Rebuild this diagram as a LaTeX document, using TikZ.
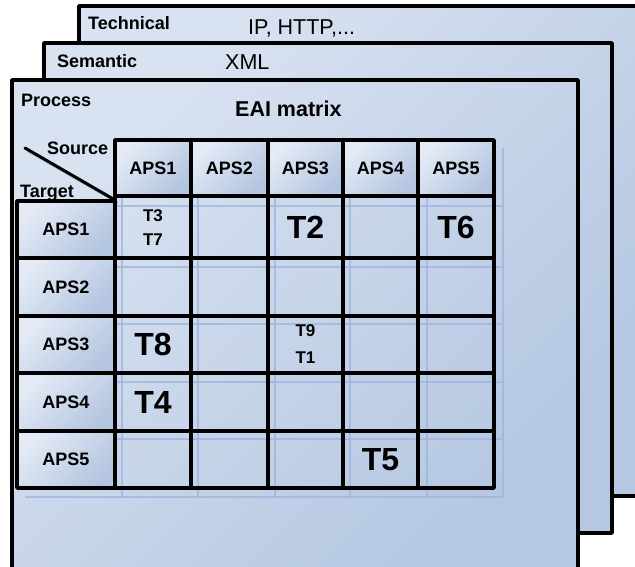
\documentclass[tikz,border=0pt]{standalone}
\usepackage{fontspec}
\setmainfont{Liberation Sans}
\definecolor{panellight}{HTML}{D9E2F1}
\definecolor{paneldark}{HTML}{B5C7E2}
\definecolor{headlight}{HTML}{E4EBF6}
\definecolor{headdark}{HTML}{B4C5E0}
\definecolor{faintblue}{HTML}{9FB6DC}
\tikzset{
	panel/.style={anchor=north west,inner sep=0pt,outer sep=0pt,top color=panellight,bottom color=paneldark,shading angle=45},
	frame/.style={line width=3.5pt,black},
	headcell/.style={anchor=north west,inner sep=0pt,outer sep=0pt,draw,line width=3.5pt,top color=headlight,bottom color=headdark,shading angle=45,font=\bfseries\fontsize{18}{20}\selectfont},
	bodycell/.style={anchor=north west,inner sep=0pt,outer sep=0pt,draw,line width=3.5pt},
	faint/.style={faintblue,line width=2pt,opacity=.8},
	lbl/.style={anchor=base west,inner sep=0pt,font=\bfseries\fontsize{18}{20}\selectfont},
	proto/.style={anchor=base west,inner sep=0pt,font=\fontsize{21.5}{24}\selectfont},
	bigtext/.style={font=\bfseries\fontsize{32}{36}\selectfont},
	smalltext/.style={font=\bfseries\fontsize{17}{24}\selectfont,align=center}
}
\begin{document}
\begin{tikzpicture}[x=1pt,y=-1pt,line join=round]
		\useasboundingbox (0,0) rectangle (635,567);
		%Ba lớp
		\node[panel,minimum width=562pt,minimum height=490pt] (tech) at (79,6) {};
		\draw[frame] (tech.south west) rectangle (tech.north east);
		\node[panel,minimum width=568pt,minimum height=490pt] (sem) at (44,43) {};
		\draw[frame] (sem.south west) rectangle (sem.north east);
		\node[panel,minimum width=566pt,minimum height=487pt] (proc) at (12,80) {};
		\draw[frame] (proc.south west)--(proc.north west)--(proc.north east)--(proc.south east);
		\draw[gray!70,line width=1pt] (proc.south west)--(proc.south east);
		\node[lbl] (techlbl) at (88,30) {Technical};
		\node[proto] (techtxt) at (248,35) {IP, HTTP,...};
		\node[lbl] (semlbl) at (57,68) {Semantic};
		\node[proto] (semtxt) at (225,70) {XML};
		\node[lbl] (proclbl) at (21,107) {Process};
		\node[lbl,font=\bfseries\fontsize{21.5}{24}\selectfont] (title) at (235,117) {EAI matrix};
		%Lưới mờ
		\foreach \x in {122,198,275,350,427,503} \draw[faint] (\x,148)--(\x,497);
		\foreach \y in {206,267,324,382,439,497} \draw[faint] (25,\y)--(503,\y);
		%Góc
		\path (25,148) coordinate (d1) (115,200) coordinate (d2);
		\draw[faint,line width=2.5pt] ([shift={(3,3)}]d1)--([shift={(3,3)}]d2);
		\draw[line width=3pt,line cap=round] (d1)--(d2);
		\node[lbl] (source) at (47,155) {Source};
		\node[lbl] (target) at (20,197) {Target};
		%Ô
		\foreach \j/\xa/\xb in {1/115/191,2/191/268,3/268/343,4/343/418,5/418/494}{
		\node[headcell,minimum width=\xb pt-\xa pt,minimum height=56pt] (h\j) at (\xa,140) {APS\j};
		\foreach \i/\ya/\yb in {1/196/258,2/258/316,3/316/373,4/373/431,5/431/488}
		\node[bodycell,minimum width=\xb pt-\xa pt,minimum height=\yb pt-\ya pt] (c\i\j) at (\xa,\ya) {};}
		\foreach \i/\ya/\yb in {1/201/258,2/258/316,3/316/373,4/373/431,5/431/488}
		\node[headcell,minimum width=98pt,minimum height=\yb pt-\ya pt] (r\i) at (17,\ya) {APS\i};
		\foreach \c/\t in {c13/T2,c15/T6,c31/T8,c41/T4,c54/T5}
		\node[bigtext] (\t) at (\c) {\t};
		\node[smalltext] (T37) at ([yshift=-1pt]c11) {T3\\T7};
		\node[smalltext] (T9) at ([yshift=13.5pt]c33) {T9};
		\node[smalltext] (T1) at ([yshift=-13.5pt]c33) {T1};
\end{tikzpicture}
\end{document}
